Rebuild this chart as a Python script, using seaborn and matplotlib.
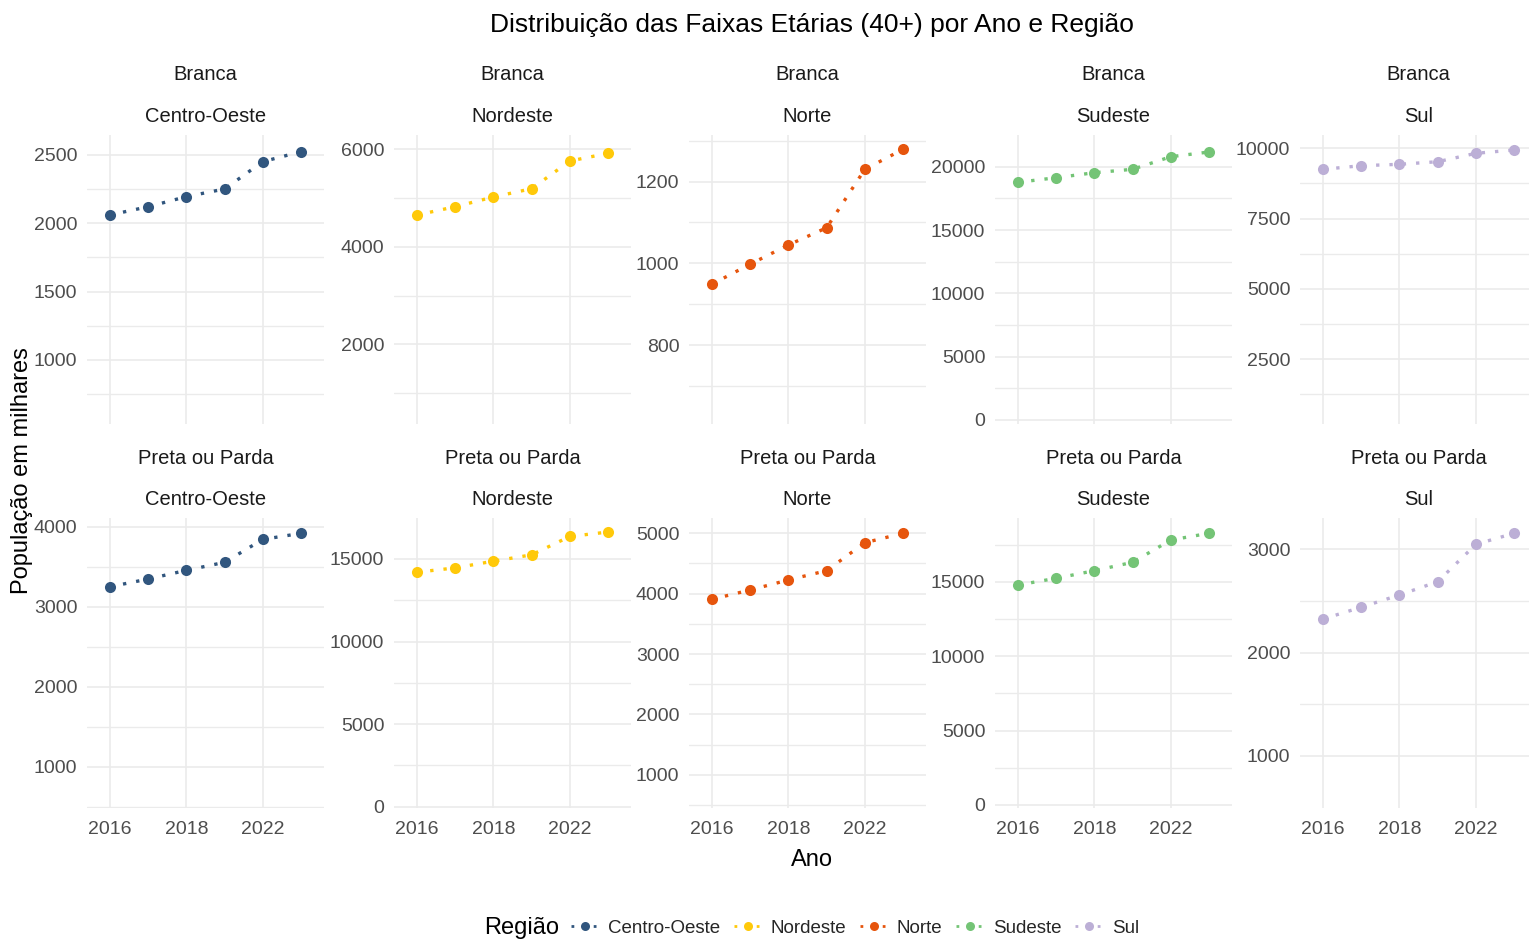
import matplotlib
matplotlib.use("Agg")
import matplotlib.pyplot as plt
from matplotlib import font_manager
from matplotlib.lines import Line2D
import seaborn as sns
import pandas as pd

# ---------------- data ----------------
anos = [2016, 2017, 2018, 2019, 2022, 2023]
regioes = ["Centro-Oeste", "Nordeste", "Norte", "Sudeste", "Sul"]
racas = ["Branca", "Preta ou Parda"]

branca_co = [2061, 2121, 2195, 2251, 2451, 2524]
branca_ne = [4649, 4819, 5018, 5188, 5755, 5913]
branca_no = [949, 998, 1045, 1087, 1230, 1279]
branca_se = [18768, 19131, 19526, 19795, 20790, 21161]
branca_sul = [9253, 9381, 9431, 9523, 9822, 9940]

preta_co = [3250, 3346, 3455, 3555, 3842, 3917]
preta_ne = [14197, 14459, 14866, 15249, 16363, 16630]
preta_no = [3907, 4061, 4227, 4381, 4844, 5000]
preta_se = [14785, 15235, 15746, 16310, 17809, 18259]
preta_sul = [2325, 2439, 2558, 2686, 3048, 3155]

ano_labels = ["2016", "2018", "2022"]

cores = ["#31567E", "#FFC90A", "#E6550D", "#74C476", "#BCAFD6"]

series = {
    ("Branca", "Centro-Oeste"): branca_co,
    ("Branca", "Nordeste"): branca_ne,
    ("Branca", "Norte"): branca_no,
    ("Branca", "Sudeste"): branca_se,
    ("Branca", "Sul"): branca_sul,
    ("Preta ou Parda", "Centro-Oeste"): preta_co,
    ("Preta ou Parda", "Nordeste"): preta_ne,
    ("Preta ou Parda", "Norte"): preta_no,
    ("Preta ou Parda", "Sudeste"): preta_se,
    ("Preta ou Parda", "Sul"): preta_sul,
}
rows = []
for (raca, reg), vals in series.items():
    for i, (a, v) in enumerate(zip(anos, vals)):
        rows.append({"raca": raca, "regiao": reg, "ano": a, "pos": i, "valor": v})
df = pd.DataFrame(rows)

# ---------------- style ----------------
sns.set_theme(style="white")
avail = {f.name for f in font_manager.fontManager.ttflist}
narrow = "Liberation Sans Narrow" if "Liberation Sans Narrow" in avail else "Liberation Sans"
plt.rcParams["font.family"] = [narrow, "DejaVu Sans"]

W, H = 1529, 941
fig = plt.figure(figsize=(W / 100, H / 100), dpi=100)

col_left = [87, 394, 689, 995, 1300]
pw = 237
row_top = [135, 518]
row_h = [289, 290]

# per-panel y configuration (limits, major, minor)
ycfg = {
    ("Branca", "Centro-Oeste"): ((531, 2646), [1000, 1500, 2000, 2500], [750, 1250, 1750, 2250]),
    ("Branca", "Nordeste"): ((369, 6288), [2000, 4000, 6000], [1000, 3000, 5000]),
    ("Branca", "Norte"): ((607, 1314), [800, 1000, 1200], [700, 900, 1100, 1300]),
    ("Branca", "Sudeste"): ((-316, 22503), [0, 5000, 10000, 15000, 20000], [2500, 7500, 12500, 17500]),
    ("Branca", "Sul"): ((196, 10473), [2500, 5000, 7500, 10000], [1250, 3750, 6250, 8750]),
    ("Preta ou Parda", "Centro-Oeste"): ((484, 4109), [1000, 2000, 3000, 4000], [500, 1500, 2500, 3500]),
    ("Preta ou Parda", "Nordeste"): ((-79, 17480), [0, 5000, 10000, 15000], [2500, 7500, 12500]),
    ("Preta ou Parda", "Norte"): ((451, 5253), [1000, 2000, 3000, 4000, 5000], [500, 1500, 2500, 3500, 4500]),
    ("Preta ou Parda", "Sudeste"): ((-202, 19287), [0, 5000, 10000, 15000], [2500, 7500, 12500, 17500]),
    ("Preta ou Parda", "Sul"): ((496, 3303), [1000, 2000, 3000], [1500, 2500]),
}

grid_c = "#EBEBEB"
tick_c = "#4D4D4D"
dot = (0, (1, 3))

for r, raca in enumerate(racas):
    for c, reg in enumerate(regioes):
        left = col_left[c] / W
        bottom = 1 - (row_top[r] + row_h[r]) / H
        ax = fig.add_axes([left, bottom, pw / W, row_h[r] / H])
        sub = df[(df.raca == raca) & (df.regiao == reg)]
        sns.lineplot(data=sub, x="pos", y="valor", ax=ax, color=cores[c],
                     linestyle=dot, linewidth=2.4, marker="o", markersize=8,
                     markeredgewidth=0, legend=False, dash_capstyle="butt")
        lim, major, minor = ycfg[(raca, reg)]
        ax.set_ylim(*lim)
        ax.set_xlim(-0.6, 5.6)
        ax.set_yticks(major)
        ax.set_yticklabels([str(v) for v in major])
        ax.set_yticks(minor, minor=True)
        ax.set_xticks([0, 2, 4])
        ax.set_xticklabels(ano_labels if r == 1 else [])
        ax.grid(which="major", color=grid_c, linewidth=1.2)
        ax.grid(which="minor", axis="y", color=grid_c, linewidth=1.0)
        ax.set_axisbelow(True)
        for s in ax.spines.values():
            s.set_visible(False)
        ax.tick_params(axis="both", which="both", length=0, labelsize=14,
                       labelcolor=tick_c)
        ax.tick_params(axis="y", pad=7)
        ax.tick_params(axis="x", pad=9)
        ax.set_xlabel("")
        ax.set_ylabel("")
        cx = (col_left[c] + pw / 2) / W
        y1 = [75, 458][r]
        y2 = [117, 500][r]
        fig.text(cx, 1 - y1 / H, raca, ha="center", va="center", fontsize=14.5, color="#1A1A1A")
        fig.text(cx, 1 - y2 / H, reg, ha="center", va="center", fontsize=14.5, color="#1A1A1A")

fig.text(812 / W, 1 - 25 / H, "Distribuição das Faixas Etárias (40+) por Ano e Região",
         ha="center", va="center", fontsize=19, color="black")
fig.text(812 / W, 1 - 860 / H, "Ano", ha="center", va="center", fontsize=17, color="black")
fig.text(22 / W, 1 - 471 / H, "População em milhares", ha="center", va="center",
         rotation=90, fontsize=17, color="black")

fig.text(484 / W, 1 - 928 / H, "Região", ha="left", va="center", fontsize=17, color="black")
handles = [Line2D([], [], color=cores[i], linestyle=dot, linewidth=2.0, marker="o",
                  markersize=6.5, markeredgewidth=0) for i in range(5)]
fig.legend(handles, regioes, loc="center left", bbox_to_anchor=(571 / W, 1 - 928 / H),
           ncol=5, frameon=False, fontsize=13.5, handlelength=1.5, handletextpad=0.45,
           columnspacing=0.75, borderpad=0, borderaxespad=0)

fig.savefig("out.png", dpi=100, facecolor="white")
